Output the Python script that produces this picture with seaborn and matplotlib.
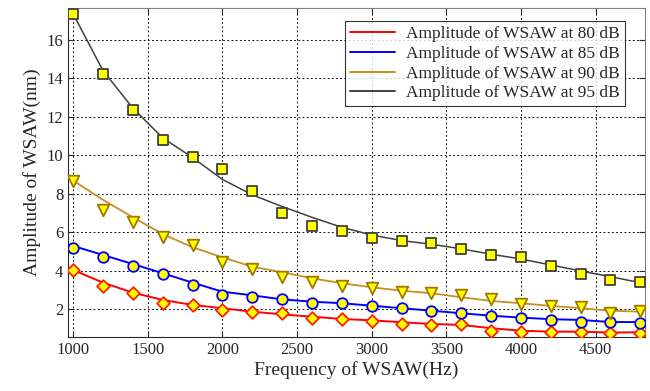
import numpy as np
import pandas as pd
import seaborn as sns
import matplotlib.pyplot as plt
from matplotlib.lines import Line2D

# frequencies (Hz)
freq = [1000, 1200, 1400, 1600, 1800, 2000, 2200, 2400, 2600, 2800,
        3000, 3200, 3400, 3600, 3800, 4000, 4200, 4400, 4600, 4800]

# measured amplitudes (markers)
amp_80 = [4.03, 3.21, 2.82, 2.33, 2.21, 1.95, 1.84, 1.78, 1.55, 1.50,
          1.39, 1.20, 1.17, 1.20, 0.87, 0.82, 0.82, 0.80, 0.73, 0.77]
amp_85 = [5.16, 4.72, 4.24, 3.81, 3.27, 2.73, 2.61, 2.50, 2.30, 2.33,
          2.17, 2.04, 1.90, 1.78, 1.64, 1.52, 1.43, 1.34, 1.34, 1.29]
amp_90 = [8.65, 7.16, 6.55, 5.77, 5.32, 4.46, 4.10, 3.68, 3.39, 3.21,
          3.08, 2.90, 2.82, 2.73, 2.50, 2.24, 2.17, 2.12, 1.81, 1.91]
amp_95 = [17.35, 14.22, 12.33, 10.80, 9.90, 9.27, 8.16, 6.98, 6.34, 6.08,
          5.70, 5.56, 5.44, 5.13, 4.81, 4.72, 4.25, 3.81, 3.51, 3.42]

# fitted curves (lines)
fit_80 = [4.03, 3.37, 2.85, 2.47, 2.21, 2.04, 1.86, 1.72, 1.60, 1.48,
          1.41, 1.31, 1.22, 1.17, 1.00, 0.87, 0.82, 0.82, 0.77, 0.79]
fit_85 = [5.28, 4.81, 4.34, 3.86, 3.37, 2.90, 2.71, 2.50, 2.38, 2.30,
          2.17, 2.04, 1.91, 1.78, 1.65, 1.55, 1.47, 1.43, 1.32, 1.32]
fit_90 = [8.68, 7.68, 6.77, 5.90, 5.21, 4.69, 4.20, 3.91, 3.60, 3.34,
          3.13, 2.95, 2.82, 2.61, 2.42, 2.30, 2.16, 2.04, 1.91, 1.86]
fit_95 = [17.35, 14.40, 12.45, 10.90, 9.88, 8.74, 7.94, 7.33, 6.77, 6.25,
          5.85, 5.56, 5.37, 5.13, 4.85, 4.60, 4.29, 3.98, 3.68, 3.37]

labels = ["Amplitude of WSAW at 80 dB", "Amplitude of WSAW at 85 dB",
          "Amplitude of WSAW at 90 dB", "Amplitude of WSAW at 95 dB"]
line_colors = ["#ff0000", "#0000ff", "#c8901e", "#404040"]
edge_colors = ["#ff2000", "#0000ff", "#a07800", "#404040"]
line_widths = [1.4, 1.4, 1.3, 1.1]
markers = ["D", "o", "v", "s"]
msizes = [42, 58, 70, 48]

sns.set_style("ticks")
plt.rcParams["font.family"] = ["Liberation Serif", "DejaVu Serif"]

fig = plt.figure(figsize=(6.5, 3.91), dpi=100)
ax = fig.add_axes([0.105, 0.138, 0.887, 0.842])

amps = [amp_80, amp_85, amp_90, amp_95]
fits = [fit_80, fit_85, fit_90, fit_95]

for i in range(4):
    df = pd.DataFrame({"freq": freq, "fit": fits[i], "amp": amps[i]})
    sns.lineplot(data=df, x="freq", y="fit", color=line_colors[i], lw=line_widths[i], ax=ax, zorder=3)
    sns.scatterplot(data=df, x="freq", y="amp", marker=markers[i], s=msizes[i],
                    color="#ffff00", edgecolor=edge_colors[i], linewidth=1.3, ax=ax, zorder=4)

ax.set_xlim(967, 4830)
ax.set_ylim(0.54, 17.67)
ax.set_xticks(np.arange(1000, 4501, 500))
ax.set_yticks(np.arange(2, 17, 2))
ax.grid(True, color="black", linestyle=(0, (1.8, 2.5)), lw=0.7)
ax.tick_params(direction="in", top=True, right=True, labelsize=12, length=4)
for side in ["top", "right"]:
    ax.spines[side].set_color("#808080")
ax.set_xlabel("Frequency of WSAW(Hz)", fontsize=14, labelpad=2)
ax.set_ylabel("Amplitude of WSAW(nm)", fontsize=14, labelpad=4)

handles = [Line2D([0], [0], color=c, lw=1.4) for c in line_colors]
leg = ax.legend(handles, labels, loc="upper right", bbox_to_anchor=(0.965, 0.96),
                fontsize=12.5, frameon=True, fancybox=False, edgecolor="black",
                handlelength=2.6, borderpad=0.3, labelspacing=0.2, handletextpad=0.6,
                borderaxespad=0)
leg.get_frame().set_linewidth(0.8)

fig.savefig("out.png", dpi=100)
